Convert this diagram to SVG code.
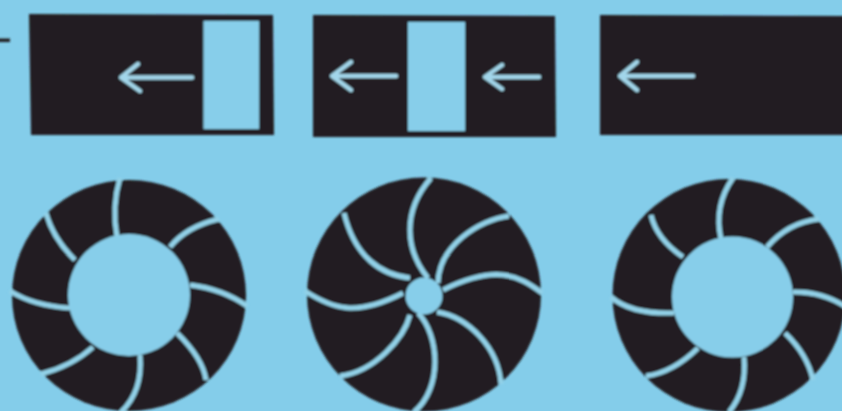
<svg xmlns="http://www.w3.org/2000/svg" width="842" height="411" viewBox="0 0 842 411">
<style>
.bg{fill:#84cdea}
.k{fill:#231f20}
.w{fill:#87ceea}
.a{fill:none;stroke:#a2d6ea;stroke-width:4.4;stroke-linecap:round;stroke-linejoin:round}
.b{fill:none;stroke:#92d1e8;stroke-width:5;stroke-linecap:butt}
</style>
<defs><filter id="soft" x="-2%" y="-2%" width="104%" height="104%"><feGaussianBlur stdDeviation="0.8"/></filter></defs>
<rect class="bg" width="842" height="411"/>
<g filter="url(#soft)">
<rect class="k" x="-2" y="38.500" width="12" height="3.500"/>
<g id="slide-1">
<path class="k" d="M29 14L273 15L274 135L31 135Z"/>
<rect class="w" x="203.500" y="21" width="55.500" height="108"/>
<path class="a" d="M192 77.500H122M138 64L121 77.500L140 91"/>
</g>
<g id="slide-2">
<path class="k" d="M313 15L555 16L556 137L313 137Z"/>
<rect class="w" x="408" y="22" width="57" height="109"/>
<path class="a" d="M396 76H333M351 62L332 76L351 90"/>
<path class="a" d="M539 77H486M502 65L485 77L502 89"/>
</g>
<g id="slide-3">
<path class="k" d="M600 15L844 16V135H600Z"/>
<path class="a" d="M693 76H621M637 62L620 76L637 90"/>
</g>
<g id="iris-1">
<ellipse class="k" cx="129" cy="295.500" rx="117" ry="115.500"/>
<path class="b" d="M120 178Q111.500 206.500 117 237"/>
<path class="b" d="M46 213Q53 238.500 75 260"/>
<path class="b" d="M10 291Q34 306 70 308"/>
<path class="b" d="M41 374Q72 366 93 347"/>
<path class="b" d="M121 412Q143 391.500 140 355"/>
<path class="b" d="M206 380Q203 358.500 177 333"/>
<path class="b" d="M247 306Q222.500 289 190 285"/>
<path class="b" d="M219 219Q186.500 226.500 170 247"/>
<circle class="w" cx="129" cy="295" r="61"/>
</g>
<g id="iris-2">
<circle class="k" cx="424" cy="294.500" r="117"/>
<path class="b" d="M431 178C402 211 405 250 428 278"/>
<path class="b" d="M344 213C355 258 382 275 410 278"/>
<path class="b" d="M305 291C333 309 356 317 403 293"/>
<path class="b" d="M340 376C375 371.500 404 338 410 315"/>
<path class="b" d="M414 412C443 388 439.500 335 418 313"/>
<path class="b" d="M501 384C498.500 348 468.500 317 437 312"/>
<path class="b" d="M542 293C518 275 496 264 443 290"/>
<path class="b" d="M509 216C479.500 219.500 438.500 246 438 283"/>
<circle class="w" cx="424" cy="296" r="18.500"/>
</g>
<g id="iris-3">
<circle class="k" cx="729" cy="295.500" r="116.500"/>
<path class="b" d="M733 178Q713.500 205.500 721 239"/>
<path class="b" d="M651 215Q656.500 239 683 257"/>
<path class="b" d="M611 297Q631.500 314.500 674 313"/>
<path class="b" d="M646 376Q673 372.500 698 348"/>
<path class="b" d="M729 412Q747 390.500 744 357"/>
<path class="b" d="M813 380Q807.500 354.500 785 333"/>
<path class="b" d="M846 307Q822.500 291.500 793 292"/>
<path class="b" d="M819 219Q788 222.500 767 247"/>
<circle class="w" cx="732.500" cy="297" r="60.500"/>
</g>
</g>
</svg>
